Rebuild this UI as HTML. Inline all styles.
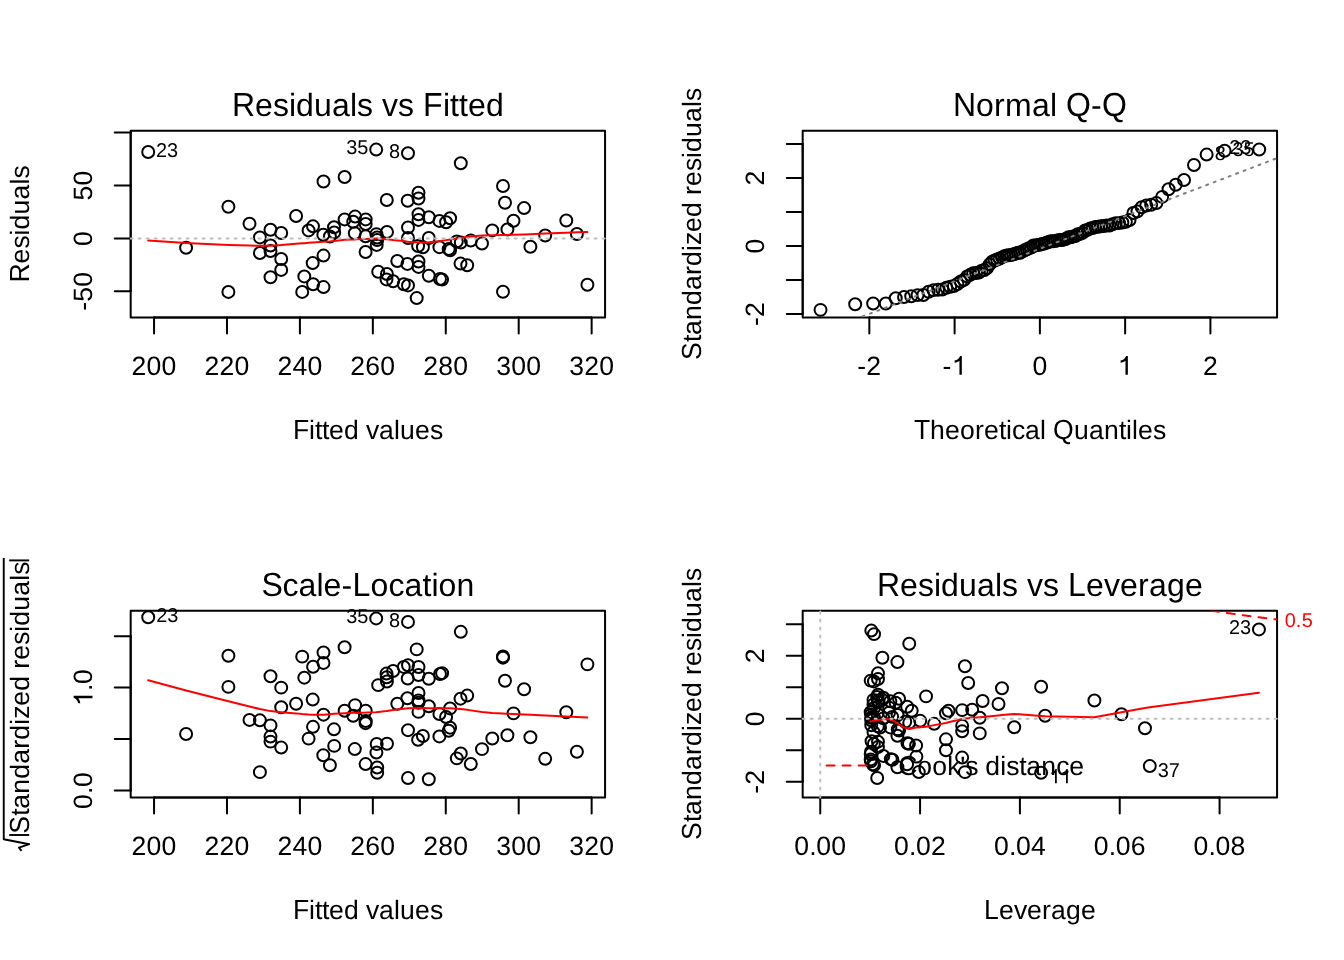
<!DOCTYPE html>
<html><head><meta charset="utf-8"><title>Regression diagnostics</title><style>html,body{margin:0;padding:0;background:#fff;overflow:hidden}svg{display:block;will-change:transform}text{text-rendering:geometricPrecision}</style></head><body>
<svg width="1344" height="960" viewBox="0 0 1344 960"><defs><clipPath id="c1"><rect x="130.68" y="130.68" width="474.39" height="186.77"/></clipPath><clipPath id="c2"><rect x="802.68" y="130.68" width="474.39" height="186.77"/></clipPath><clipPath id="c3"><rect x="130.68" y="610.68" width="474.39" height="186.77"/></clipPath><clipPath id="c4"><rect x="802.68" y="610.68" width="474.39" height="186.77"/></clipPath></defs><rect width="1344" height="960" fill="#fff"/><rect x="130.68" y="130.68" width="474.39" height="186.77" fill="none" stroke="#000" stroke-width="2" stroke-linejoin="round"/>
<rect x="802.68" y="130.68" width="474.39" height="186.77" fill="none" stroke="#000" stroke-width="2" stroke-linejoin="round"/>
<rect x="130.68" y="610.68" width="474.39" height="186.77" fill="none" stroke="#000" stroke-width="2" stroke-linejoin="round"/>
<rect x="802.68" y="610.68" width="474.39" height="186.77" fill="none" stroke="#000" stroke-width="2" stroke-linejoin="round"/>
<line x1="154.05" y1="317.45" x2="154.05" y2="333.39" stroke="#000" stroke-width="2" stroke-linecap="round"/>
<line x1="226.98" y1="317.45" x2="226.98" y2="333.39" stroke="#000" stroke-width="2" stroke-linecap="round"/>
<line x1="299.91" y1="317.45" x2="299.91" y2="333.39" stroke="#000" stroke-width="2" stroke-linecap="round"/>
<line x1="372.85" y1="317.45" x2="372.85" y2="333.39" stroke="#000" stroke-width="2" stroke-linecap="round"/>
<line x1="445.78" y1="317.45" x2="445.78" y2="333.39" stroke="#000" stroke-width="2" stroke-linecap="round"/>
<line x1="518.71" y1="317.45" x2="518.71" y2="333.39" stroke="#000" stroke-width="2" stroke-linecap="round"/>
<line x1="591.64" y1="317.45" x2="591.64" y2="333.39" stroke="#000" stroke-width="2" stroke-linecap="round"/>
<line x1="154.05" y1="317.45" x2="591.64" y2="317.45" stroke="#000" stroke-width="2" stroke-linecap="round"/>
<g transform="translate(154.05,374.82)" fill="#000"><text x="-22.5 -7.5 7.5" y="0" font-family="Liberation Sans, sans-serif" font-size="26.56">200</text></g>
<g transform="translate(226.98,374.82)" fill="#000"><text x="-22.5 -7.5 7.5" y="0" font-family="Liberation Sans, sans-serif" font-size="26.56">220</text></g>
<g transform="translate(299.91,374.82)" fill="#000"><text x="-22.5 -7.5 7.5" y="0" font-family="Liberation Sans, sans-serif" font-size="26.56">240</text></g>
<g transform="translate(372.85,374.82)" fill="#000"><text x="-22.5 -7.5 7.5" y="0" font-family="Liberation Sans, sans-serif" font-size="26.56">260</text></g>
<g transform="translate(445.78,374.82)" fill="#000"><text x="-22.5 -7.5 7.5" y="0" font-family="Liberation Sans, sans-serif" font-size="26.56">280</text></g>
<g transform="translate(518.71,374.82)" fill="#000"><text x="-22.5 -7.5 7.5" y="0" font-family="Liberation Sans, sans-serif" font-size="26.56">300</text></g>
<g transform="translate(591.64,374.82)" fill="#000"><text x="-22.5 -7.5 7.5" y="0" font-family="Liberation Sans, sans-serif" font-size="26.56">320</text></g>
<line x1="130.68" y1="291.34" x2="114.74" y2="291.34" stroke="#000" stroke-width="2" stroke-linecap="round"/>
<line x1="130.68" y1="238.42" x2="114.74" y2="238.42" stroke="#000" stroke-width="2" stroke-linecap="round"/>
<line x1="130.68" y1="185.5" x2="114.74" y2="185.5" stroke="#000" stroke-width="2" stroke-linecap="round"/>
<line x1="130.68" y1="132.58" x2="114.74" y2="132.58" stroke="#000" stroke-width="2" stroke-linecap="round"/>
<line x1="130.68" y1="291.34" x2="130.68" y2="132.58" stroke="#000" stroke-width="2" stroke-linecap="round"/>
<g transform="translate(92.44,291.34) rotate(-90)" fill="#000"><text x="-19.5 -10.5 4.5" y="0" font-family="Liberation Sans, sans-serif" font-size="26.56">-50</text></g>
<g transform="translate(92.44,238.42) rotate(-90)" fill="#000"><text x="-7.5" y="0" font-family="Liberation Sans, sans-serif" font-size="26.56">0</text></g>
<g transform="translate(92.44,185.5) rotate(-90)" fill="#000"><text x="-15 0" y="0" font-family="Liberation Sans, sans-serif" font-size="26.56">50</text></g>
<g transform="translate(367.88,116.34)" fill="#000"><text x="-113 -95 -79 -72 -54 -36 -18 -11 14 30 75 82 91 100 118" y="0" font-family="Liberation Sans, sans-serif" font-size="32">esidualsvsitted</text><text transform="translate(-136,0) scale(1,1.04)" x="0" y="0" font-family="Liberation Sans, sans-serif" font-size="32">R</text><text transform="translate(55,0) scale(1,1.04)" x="0" y="0" font-family="Liberation Sans, sans-serif" font-size="32">F</text></g>
<g transform="translate(367.88,438.56)" fill="#000"><text x="-59 -53 -46 -39 -24 -2 11 26 32 47 62" y="0" font-family="Liberation Sans, sans-serif" font-size="26.56">ittedvalues</text><text transform="translate(-75,0) scale(1,1.04)" x="0" y="0" font-family="Liberation Sans, sans-serif" font-size="26.56">F</text></g>
<g transform="translate(28.7,224.06) rotate(-90)" fill="#000"><text x="-39.5 -24.5 -11.5 -5.5 9.5 24.5 39.5 45.5" y="0" font-family="Liberation Sans, sans-serif" font-size="26.56">esiduals</text><text transform="translate(-58.5,0) scale(1,1.04)" x="0" y="0" font-family="Liberation Sans, sans-serif" font-size="26.56">R</text></g>
<line x1="869.34" y1="317.45" x2="869.34" y2="333.39" stroke="#000" stroke-width="2" stroke-linecap="round"/>
<line x1="954.61" y1="317.45" x2="954.61" y2="333.39" stroke="#000" stroke-width="2" stroke-linecap="round"/>
<line x1="1039.88" y1="317.45" x2="1039.88" y2="333.39" stroke="#000" stroke-width="2" stroke-linecap="round"/>
<line x1="1125.14" y1="317.45" x2="1125.14" y2="333.39" stroke="#000" stroke-width="2" stroke-linecap="round"/>
<line x1="1210.41" y1="317.45" x2="1210.41" y2="333.39" stroke="#000" stroke-width="2" stroke-linecap="round"/>
<line x1="869.34" y1="317.45" x2="1210.41" y2="317.45" stroke="#000" stroke-width="2" stroke-linecap="round"/>
<g transform="translate(869.34,374.82)" fill="#000"><text x="-12 -3" y="0" font-family="Liberation Sans, sans-serif" font-size="26.56">-2</text></g>
<g transform="translate(954.61,374.82)" fill="#000"><text x="-12" y="0" font-family="Liberation Sans, sans-serif" font-size="26.56">-</text><path d="M0.295 0L0.385 0L0.385 0.709L0.318 0.709C0.292 0.628 0.218 0.553 0.112 0.538L0.112 0.458C0.185 0.466 0.248 0.495 0.295 0.53Z" transform="translate(-3,0) scale(26.56,-26.56)"/></g>
<g transform="translate(1039.88,374.82)" fill="#000"><text x="-7.5" y="0" font-family="Liberation Sans, sans-serif" font-size="26.56">0</text></g>
<g transform="translate(1125.14,374.82)" fill="#000"><path d="M0.295 0L0.385 0L0.385 0.709L0.318 0.709C0.292 0.628 0.218 0.553 0.112 0.538L0.112 0.458C0.185 0.466 0.248 0.495 0.295 0.53Z" transform="translate(-7.5,0) scale(26.56,-26.56)"/></g>
<g transform="translate(1210.41,374.82)" fill="#000"><text x="-7.5" y="0" font-family="Liberation Sans, sans-serif" font-size="26.56">2</text></g>
<line x1="802.68" y1="313.9" x2="786.74" y2="313.9" stroke="#000" stroke-width="2" stroke-linecap="round"/>
<line x1="802.68" y1="279.9" x2="786.74" y2="279.9" stroke="#000" stroke-width="2" stroke-linecap="round"/>
<line x1="802.68" y1="245.9" x2="786.74" y2="245.9" stroke="#000" stroke-width="2" stroke-linecap="round"/>
<line x1="802.68" y1="211.9" x2="786.74" y2="211.9" stroke="#000" stroke-width="2" stroke-linecap="round"/>
<line x1="802.68" y1="177.9" x2="786.74" y2="177.9" stroke="#000" stroke-width="2" stroke-linecap="round"/>
<line x1="802.68" y1="143.9" x2="786.74" y2="143.9" stroke="#000" stroke-width="2" stroke-linecap="round"/>
<line x1="802.68" y1="313.9" x2="802.68" y2="143.9" stroke="#000" stroke-width="2" stroke-linecap="round"/>
<g transform="translate(764.44,313.9) rotate(-90)" fill="#000"><text x="-12 -3" y="0" font-family="Liberation Sans, sans-serif" font-size="26.56">-2</text></g>
<g transform="translate(764.44,245.9) rotate(-90)" fill="#000"><text x="-7.5" y="0" font-family="Liberation Sans, sans-serif" font-size="26.56">0</text></g>
<g transform="translate(764.44,177.9) rotate(-90)" fill="#000"><text x="-7.5" y="0" font-family="Liberation Sans, sans-serif" font-size="26.56">2</text></g>
<g transform="translate(1039.88,116.34)" fill="#000"><text x="-64 -46 -35 -8 10 51" y="0" font-family="Liberation Sans, sans-serif" font-size="32">ormal-</text><text transform="translate(-87,0) scale(1,1.04)" x="0" y="0" font-family="Liberation Sans, sans-serif" font-size="32">N</text><text transform="translate(26,0) scale(1,1.04)" x="0" y="0" font-family="Liberation Sans, sans-serif" font-size="32">Q</text><text transform="translate(62,0) scale(1,1.04)" x="0" y="0" font-family="Liberation Sans, sans-serif" font-size="32">Q</text></g>
<g transform="translate(1039.88,438.56)" fill="#000"><text x="-110 -95 -80 -65 -56 -41 -34 -28 -15 0 34 49 64 79 86 92 98 113" y="0" font-family="Liberation Sans, sans-serif" font-size="26.56">heoreticaluantiles</text><text transform="translate(-126,0) scale(1,1.04)" x="0" y="0" font-family="Liberation Sans, sans-serif" font-size="26.56">T</text><text transform="translate(13,0) scale(1,1.04)" x="0" y="0" font-family="Liberation Sans, sans-serif" font-size="26.56">Q</text></g>
<g transform="translate(700.7,224.06) rotate(-90)" fill="#000"><text x="-118 -111 -96 -81 -66 -51 -42 -27 -21 -8 7 29 38 53 66 72 87 102 117 123" y="0" font-family="Liberation Sans, sans-serif" font-size="26.56">tandardizedresiduals</text><text transform="translate(-136,0) scale(1,1.04)" x="0" y="0" font-family="Liberation Sans, sans-serif" font-size="26.56">S</text></g>
<line x1="154.05" y1="797.45" x2="154.05" y2="813.39" stroke="#000" stroke-width="2" stroke-linecap="round"/>
<line x1="226.98" y1="797.45" x2="226.98" y2="813.39" stroke="#000" stroke-width="2" stroke-linecap="round"/>
<line x1="299.91" y1="797.45" x2="299.91" y2="813.39" stroke="#000" stroke-width="2" stroke-linecap="round"/>
<line x1="372.85" y1="797.45" x2="372.85" y2="813.39" stroke="#000" stroke-width="2" stroke-linecap="round"/>
<line x1="445.78" y1="797.45" x2="445.78" y2="813.39" stroke="#000" stroke-width="2" stroke-linecap="round"/>
<line x1="518.71" y1="797.45" x2="518.71" y2="813.39" stroke="#000" stroke-width="2" stroke-linecap="round"/>
<line x1="591.64" y1="797.45" x2="591.64" y2="813.39" stroke="#000" stroke-width="2" stroke-linecap="round"/>
<line x1="154.05" y1="797.45" x2="591.64" y2="797.45" stroke="#000" stroke-width="2" stroke-linecap="round"/>
<g transform="translate(154.05,854.82)" fill="#000"><text x="-22.5 -7.5 7.5" y="0" font-family="Liberation Sans, sans-serif" font-size="26.56">200</text></g>
<g transform="translate(226.98,854.82)" fill="#000"><text x="-22.5 -7.5 7.5" y="0" font-family="Liberation Sans, sans-serif" font-size="26.56">220</text></g>
<g transform="translate(299.91,854.82)" fill="#000"><text x="-22.5 -7.5 7.5" y="0" font-family="Liberation Sans, sans-serif" font-size="26.56">240</text></g>
<g transform="translate(372.85,854.82)" fill="#000"><text x="-22.5 -7.5 7.5" y="0" font-family="Liberation Sans, sans-serif" font-size="26.56">260</text></g>
<g transform="translate(445.78,854.82)" fill="#000"><text x="-22.5 -7.5 7.5" y="0" font-family="Liberation Sans, sans-serif" font-size="26.56">280</text></g>
<g transform="translate(518.71,854.82)" fill="#000"><text x="-22.5 -7.5 7.5" y="0" font-family="Liberation Sans, sans-serif" font-size="26.56">300</text></g>
<g transform="translate(591.64,854.82)" fill="#000"><text x="-22.5 -7.5 7.5" y="0" font-family="Liberation Sans, sans-serif" font-size="26.56">320</text></g>
<line x1="130.68" y1="790.4" x2="114.74" y2="790.4" stroke="#000" stroke-width="2" stroke-linecap="round"/>
<line x1="130.68" y1="739" x2="114.74" y2="739" stroke="#000" stroke-width="2" stroke-linecap="round"/>
<line x1="130.68" y1="687.6" x2="114.74" y2="687.6" stroke="#000" stroke-width="2" stroke-linecap="round"/>
<line x1="130.68" y1="636.2" x2="114.74" y2="636.2" stroke="#000" stroke-width="2" stroke-linecap="round"/>
<line x1="130.68" y1="790.4" x2="130.68" y2="636.2" stroke="#000" stroke-width="2" stroke-linecap="round"/>
<g transform="translate(92.44,790.4) rotate(-90)" fill="#000"><text x="-18.5 -3.5 3.5" y="0" font-family="Liberation Sans, sans-serif" font-size="26.56">0.0</text></g>
<g transform="translate(92.44,687.6) rotate(-90)" fill="#000"><text x="-3.5 3.5" y="0" font-family="Liberation Sans, sans-serif" font-size="26.56">.0</text><path d="M0.295 0L0.385 0L0.385 0.709L0.318 0.709C0.292 0.628 0.218 0.553 0.112 0.538L0.112 0.458C0.185 0.466 0.248 0.495 0.295 0.53Z" transform="translate(-18.5,0) scale(26.56,-26.56)"/></g>
<g transform="translate(367.88,596.34)" fill="#000"><text x="-85.5 -69.5 -51.5 -44.5 -26.5 2.5 20.5 36.5 54.5 63.5 70.5 88.5" y="0" font-family="Liberation Sans, sans-serif" font-size="32">cale-ocation</text><text transform="translate(-106.5,0) scale(1,1.04)" x="0" y="0" font-family="Liberation Sans, sans-serif" font-size="32">S</text><text transform="translate(-15.5,0) scale(1,1.04)" x="0" y="0" font-family="Liberation Sans, sans-serif" font-size="32">L</text></g>
<g transform="translate(367.88,918.56)" fill="#000"><text x="-59 -53 -46 -39 -24 -2 11 26 32 47 62" y="0" font-family="Liberation Sans, sans-serif" font-size="26.56">ittedvalues</text><text transform="translate(-75,0) scale(1,1.04)" x="0" y="0" font-family="Liberation Sans, sans-serif" font-size="26.56">F</text></g>
<line x1="820.25" y1="797.45" x2="820.25" y2="813.39" stroke="#000" stroke-width="2" stroke-linecap="round"/>
<line x1="920.08" y1="797.45" x2="920.08" y2="813.39" stroke="#000" stroke-width="2" stroke-linecap="round"/>
<line x1="1019.91" y1="797.45" x2="1019.91" y2="813.39" stroke="#000" stroke-width="2" stroke-linecap="round"/>
<line x1="1119.74" y1="797.45" x2="1119.74" y2="813.39" stroke="#000" stroke-width="2" stroke-linecap="round"/>
<line x1="1219.57" y1="797.45" x2="1219.57" y2="813.39" stroke="#000" stroke-width="2" stroke-linecap="round"/>
<line x1="820.25" y1="797.45" x2="1219.57" y2="797.45" stroke="#000" stroke-width="2" stroke-linecap="round"/>
<g transform="translate(820.25,854.82)" fill="#000"><text x="-26 -11 -4 11" y="0" font-family="Liberation Sans, sans-serif" font-size="26.56">0.00</text></g>
<g transform="translate(920.08,854.82)" fill="#000"><text x="-26 -11 -4 11" y="0" font-family="Liberation Sans, sans-serif" font-size="26.56">0.02</text></g>
<g transform="translate(1019.91,854.82)" fill="#000"><text x="-26 -11 -4 11" y="0" font-family="Liberation Sans, sans-serif" font-size="26.56">0.04</text></g>
<g transform="translate(1119.74,854.82)" fill="#000"><text x="-26 -11 -4 11" y="0" font-family="Liberation Sans, sans-serif" font-size="26.56">0.06</text></g>
<g transform="translate(1219.57,854.82)" fill="#000"><text x="-26 -11 -4 11" y="0" font-family="Liberation Sans, sans-serif" font-size="26.56">0.08</text></g>
<line x1="802.68" y1="781.75" x2="786.74" y2="781.75" stroke="#000" stroke-width="2" stroke-linecap="round"/>
<line x1="802.68" y1="750.25" x2="786.74" y2="750.25" stroke="#000" stroke-width="2" stroke-linecap="round"/>
<line x1="802.68" y1="718.75" x2="786.74" y2="718.75" stroke="#000" stroke-width="2" stroke-linecap="round"/>
<line x1="802.68" y1="687.25" x2="786.74" y2="687.25" stroke="#000" stroke-width="2" stroke-linecap="round"/>
<line x1="802.68" y1="655.75" x2="786.74" y2="655.75" stroke="#000" stroke-width="2" stroke-linecap="round"/>
<line x1="802.68" y1="624.25" x2="786.74" y2="624.25" stroke="#000" stroke-width="2" stroke-linecap="round"/>
<line x1="802.68" y1="781.75" x2="802.68" y2="624.25" stroke="#000" stroke-width="2" stroke-linecap="round"/>
<g transform="translate(764.44,781.75) rotate(-90)" fill="#000"><text x="-12 -3" y="0" font-family="Liberation Sans, sans-serif" font-size="26.56">-2</text></g>
<g transform="translate(764.44,718.75) rotate(-90)" fill="#000"><text x="-7.5" y="0" font-family="Liberation Sans, sans-serif" font-size="26.56">0</text></g>
<g transform="translate(764.44,655.75) rotate(-90)" fill="#000"><text x="-7.5" y="0" font-family="Liberation Sans, sans-serif" font-size="26.56">2</text></g>
<g transform="translate(1039.88,596.34)" fill="#000"><text x="-140 -122 -106 -99 -81 -63 -45 -38 -13 3 46 64 80 98 109 127 145" y="0" font-family="Liberation Sans, sans-serif" font-size="32">esidualsvseverage</text><text transform="translate(-163,0) scale(1,1.04)" x="0" y="0" font-family="Liberation Sans, sans-serif" font-size="32">R</text><text transform="translate(28,0) scale(1,1.04)" x="0" y="0" font-family="Liberation Sans, sans-serif" font-size="32">L</text></g>
<g transform="translate(1039.88,918.56)" fill="#000"><text x="-41 -26 -13 2 11 26 41" y="0" font-family="Liberation Sans, sans-serif" font-size="26.56">everage</text><text transform="translate(-56,0) scale(1,1.04)" x="0" y="0" font-family="Liberation Sans, sans-serif" font-size="26.56">L</text></g>
<g transform="translate(700.7,704.07) rotate(-90)" fill="#000"><text x="-118 -111 -96 -81 -66 -51 -42 -27 -21 -8 7 29 38 53 66 72 87 102 117 123" y="0" font-family="Liberation Sans, sans-serif" font-size="26.56">tandardizedresiduals</text><text transform="translate(-136,0) scale(1,1.04)" x="0" y="0" font-family="Liberation Sans, sans-serif" font-size="26.56">S</text></g>
<g fill="none" stroke="#000" stroke-width="2">
<circle cx="148.2" cy="152" r="5.98"/>
<circle cx="228.4" cy="206.8" r="5.98"/>
<circle cx="249.5" cy="223.7" r="5.98"/>
<circle cx="186.1" cy="247.7" r="5.98"/>
<circle cx="270.5" cy="229.8" r="5.98"/>
<circle cx="281.2" cy="232.96" r="5.98"/>
<circle cx="259.9" cy="237.43" r="5.98"/>
<circle cx="270.5" cy="245.5" r="5.98"/>
<circle cx="270.5" cy="251" r="5.98"/>
<circle cx="259.9" cy="253" r="5.98"/>
<circle cx="281.2" cy="259" r="5.98"/>
<circle cx="281.2" cy="269.9" r="5.98"/>
<circle cx="270.5" cy="277.2" r="5.98"/>
<circle cx="228.4" cy="291.93" r="5.98"/>
<circle cx="376.2" cy="149.6" r="5.98"/>
<circle cx="408" cy="153.2" r="5.98"/>
<circle cx="323.5" cy="181.5" r="5.98"/>
<circle cx="344.6" cy="177" r="5.98"/>
<circle cx="386.8" cy="200" r="5.98"/>
<circle cx="407.7" cy="200.8" r="5.98"/>
<circle cx="418.5" cy="192.7" r="5.98"/>
<circle cx="418.5" cy="198.5" r="5.98"/>
<circle cx="296.1" cy="216" r="5.98"/>
<circle cx="418.5" cy="214.2" r="5.98"/>
<circle cx="418.5" cy="219.92" r="5.98"/>
<circle cx="428.8" cy="217.2" r="5.98"/>
<circle cx="344.6" cy="219.4" r="5.98"/>
<circle cx="355.1" cy="216.6" r="5.98"/>
<circle cx="365.7" cy="219.4" r="5.98"/>
<circle cx="308.6" cy="230.4" r="5.98"/>
<circle cx="313" cy="226.33" r="5.98"/>
<circle cx="323.3" cy="234.73" r="5.98"/>
<circle cx="329.9" cy="236.53" r="5.98"/>
<circle cx="334" cy="227.24" r="5.98"/>
<circle cx="334.2" cy="232.48" r="5.98"/>
<circle cx="353.2" cy="221.7" r="5.98"/>
<circle cx="365.7" cy="224" r="5.98"/>
<circle cx="354.8" cy="233.3" r="5.98"/>
<circle cx="365.6" cy="236.34" r="5.98"/>
<circle cx="376.4" cy="234.13" r="5.98"/>
<circle cx="377.2" cy="237.49" r="5.98"/>
<circle cx="377.2" cy="239.99" r="5.98"/>
<circle cx="376.7" cy="244.9" r="5.98"/>
<circle cx="387" cy="231.9" r="5.98"/>
<circle cx="365.6" cy="252" r="5.98"/>
<circle cx="408" cy="227.52" r="5.98"/>
<circle cx="408" cy="237.96" r="5.98"/>
<circle cx="428.8" cy="238.05" r="5.98"/>
<circle cx="418.1" cy="246.1" r="5.98"/>
<circle cx="422.9" cy="247.3" r="5.98"/>
<circle cx="323.5" cy="255.6" r="5.98"/>
<circle cx="312.7" cy="263.1" r="5.98"/>
<circle cx="304.3" cy="276.4" r="5.98"/>
<circle cx="313.1" cy="284.2" r="5.98"/>
<circle cx="323.5" cy="287.1" r="5.98"/>
<circle cx="302.2" cy="291.9" r="5.98"/>
<circle cx="378.2" cy="271.7" r="5.98"/>
<circle cx="386.9" cy="274" r="5.98"/>
<circle cx="386.5" cy="279.4" r="5.98"/>
<circle cx="393.1" cy="281.2" r="5.98"/>
<circle cx="397.3" cy="261" r="5.98"/>
<circle cx="407.4" cy="263.9" r="5.98"/>
<circle cx="418.5" cy="261.5" r="5.98"/>
<circle cx="418.5" cy="266.9" r="5.98"/>
<circle cx="403.8" cy="284.2" r="5.98"/>
<circle cx="408" cy="285.4" r="5.98"/>
<circle cx="428.8" cy="275.8" r="5.98"/>
<circle cx="416.7" cy="298.1" r="5.98"/>
<circle cx="460.8" cy="163.2" r="5.98"/>
<circle cx="503" cy="186" r="5.98"/>
<circle cx="505" cy="202.7" r="5.98"/>
<circle cx="524.1" cy="208.1" r="5.98"/>
<circle cx="513.5" cy="220.8" r="5.98"/>
<circle cx="566.3" cy="220.51" r="5.98"/>
<circle cx="439.4" cy="220.9" r="5.98"/>
<circle cx="450.1" cy="218.3" r="5.98"/>
<circle cx="446.1" cy="222.3" r="5.98"/>
<circle cx="492.3" cy="230.4" r="5.98"/>
<circle cx="507.4" cy="229.4" r="5.98"/>
<circle cx="545.2" cy="235.48" r="5.98"/>
<circle cx="576.9" cy="234.06" r="5.98"/>
<circle cx="456.8" cy="241.49" r="5.98"/>
<circle cx="460.8" cy="242.5" r="5.98"/>
<circle cx="470.8" cy="240.5" r="5.98"/>
<circle cx="482" cy="243.5" r="5.98"/>
<circle cx="439.4" cy="247.15" r="5.98"/>
<circle cx="448.7" cy="249.1" r="5.98"/>
<circle cx="450.1" cy="250.2" r="5.98"/>
<circle cx="530.4" cy="246.8" r="5.98"/>
<circle cx="460.5" cy="263.6" r="5.98"/>
<circle cx="467.2" cy="265.3" r="5.98"/>
<circle cx="440" cy="279" r="5.98"/>
<circle cx="442.1" cy="279.6" r="5.98"/>
<circle cx="503" cy="291.7" r="5.98"/>
<circle cx="587.4" cy="284.76" r="5.98"/>
</g>
<polyline points="148.2,240.45 186.1,242.96 228.4,244.91 228.4,244.91 249.5,245.61 259.9,245.76 259.9,245.76 270.5,245.63 270.5,245.63 270.5,245.63 270.5,245.63 281.2,245.03 281.2,245.03 281.2,245.03 281.2,245.03 296.1,243.82 302.2,243.3 304.3,243.13 308.6,242.81 312.7,242.51 313,242.49 313.1,242.48 323.3,241.75 323.5,241.73 323.5,241.73 323.5,241.73 329.9,241.47 334,241.12 334.2,241.1 344.6,239.85 344.6,239.85 353.2,239.53 354.8,239.36 355.1,239.32 365.6,238.9 365.6,238.9 365.7,238.9 365.7,238.9 376.2,238.5 376.4,238.51 376.4,238.51 376.7,238.53 376.7,238.53 377.2,238.57 377.2,238.57 378.2,238.64 386.5,239.25 386.8,239.28 386.9,239.29 387,239.3 393.1,240.06 397.3,240.45 403.8,241.09 407.4,241.64 407.7,241.69 408,241.73 408,241.73 408,241.73 408,241.73 416.7,242.24 418.1,242.37 418.5,242.41 418.5,242.41 418.5,242.41 418.5,242.41 418.5,242.41 418.5,242.41 422.9,242.49 428.8,242.23 428.8,242.23 428.8,242.23 428.8,242.23 439.4,241.33 439.4,241.33 440,241.22 442.1,240.85 446.1,240.11 448.7,239.66 450.1,239.41 450.1,239.41 456.8,238.38 460.5,237.86 460.8,237.81 460.8,237.81 467.2,236.9 470.8,236.42 482,235.42 492.3,235.14 503,234.98 503,234.98 505,234.94 507.4,234.89 513.5,234.74 524.1,234.41 530.4,234.18 545.2,233.56 566.3,232.68 576.9,232.28 587.4,231.94" fill="none" stroke="#FF0000" stroke-width="2" stroke-linecap="round" stroke-linejoin="round"/>
<g transform="translate(156.03,157.03)" fill="#000"><text x="0 11" y="0" font-family="Liberation Sans, sans-serif" font-size="19.92">23</text></g>
<g transform="translate(368.16,154.29)" fill="#000"><text x="-22 -11" y="0" font-family="Liberation Sans, sans-serif" font-size="19.92">35</text></g>
<g transform="translate(399.98,158.15)" fill="#000"><text x="-11" y="0" font-family="Liberation Sans, sans-serif" font-size="19.92">8</text></g>
<polyline points="130.68,238.42 605.07,238.42" fill="none" stroke="#BEBEBE" stroke-width="2" stroke-linecap="round" stroke-linejoin="round" stroke-dasharray="2 6"/>
<g fill="none" stroke="#000" stroke-width="2">
<circle cx="820.53" cy="309.87" r="5.98"/>
<circle cx="855.17" cy="304.24" r="5.98"/>
<circle cx="873.12" cy="303.53" r="5.98"/>
<circle cx="885.76" cy="303.47" r="5.98"/>
<circle cx="895.72" cy="298.19" r="5.98"/>
<circle cx="904.02" cy="297.01" r="5.98"/>
<circle cx="911.21" cy="296.24" r="5.98"/>
<circle cx="917.58" cy="295.12" r="5.98"/>
<circle cx="923.34" cy="294.95" r="5.98"/>
<circle cx="928.6" cy="291.73" r="5.98"/>
<circle cx="933.48" cy="290.11" r="5.98"/>
<circle cx="938.03" cy="289.8" r="5.98"/>
<circle cx="942.31" cy="289.46" r="5.98"/>
<circle cx="946.35" cy="287.83" r="5.98"/>
<circle cx="950.2" cy="286.78" r="5.98"/>
<circle cx="953.87" cy="285.99" r="5.98"/>
<circle cx="957.38" cy="284.02" r="5.98"/>
<circle cx="960.77" cy="281.55" r="5.98"/>
<circle cx="964.03" cy="279.88" r="5.98"/>
<circle cx="967.18" cy="276.43" r="5.98"/>
<circle cx="970.24" cy="274.83" r="5.98"/>
<circle cx="973.21" cy="273.2" r="5.98"/>
<circle cx="976.11" cy="272.98" r="5.98"/>
<circle cx="978.93" cy="272.44" r="5.98"/>
<circle cx="981.68" cy="270.64" r="5.98"/>
<circle cx="984.38" cy="270.09" r="5.98"/>
<circle cx="987.02" cy="268.12" r="5.98"/>
<circle cx="989.61" cy="264.35" r="5.98"/>
<circle cx="992.16" cy="261.69" r="5.98"/>
<circle cx="994.66" cy="260.45" r="5.98"/>
<circle cx="997.13" cy="259.5" r="5.98"/>
<circle cx="999.56" cy="258.56" r="5.98"/>
<circle cx="1001.96" cy="257.37" r="5.98"/>
<circle cx="1004.33" cy="256.13" r="5.98"/>
<circle cx="1006.67" cy="255.42" r="5.98"/>
<circle cx="1008.99" cy="255.27" r="5.98"/>
<circle cx="1011.28" cy="255.01" r="5.98"/>
<circle cx="1013.56" cy="254.13" r="5.98"/>
<circle cx="1015.81" cy="253.56" r="5.98"/>
<circle cx="1018.05" cy="252.84" r="5.98"/>
<circle cx="1020.27" cy="252.84" r="5.98"/>
<circle cx="1022.48" cy="251.38" r="5.98"/>
<circle cx="1024.68" cy="250.29" r="5.98"/>
<circle cx="1026.87" cy="249.2" r="5.98"/>
<circle cx="1029.05" cy="248.14" r="5.98"/>
<circle cx="1031.22" cy="247.58" r="5.98"/>
<circle cx="1033.39" cy="245.5" r="5.98"/>
<circle cx="1035.56" cy="245.41" r="5.98"/>
<circle cx="1037.72" cy="244.9" r="5.98"/>
<circle cx="1039.88" cy="244.83" r="5.98"/>
<circle cx="1042.03" cy="243.87" r="5.98"/>
<circle cx="1044.19" cy="243.67" r="5.98"/>
<circle cx="1046.36" cy="242.69" r="5.98"/>
<circle cx="1048.53" cy="241.94" r="5.98"/>
<circle cx="1050.7" cy="241.3" r="5.98"/>
<circle cx="1052.88" cy="241.3" r="5.98"/>
<circle cx="1055.07" cy="241.11" r="5.98"/>
<circle cx="1057.27" cy="240.41" r="5.98"/>
<circle cx="1059.48" cy="240.01" r="5.98"/>
<circle cx="1061.7" cy="240.01" r="5.98"/>
<circle cx="1063.94" cy="239.52" r="5.98"/>
<circle cx="1066.19" cy="238.92" r="5.98"/>
<circle cx="1068.47" cy="237.27" r="5.98"/>
<circle cx="1070.76" cy="237.24" r="5.98"/>
<circle cx="1073.08" cy="236.58" r="5.98"/>
<circle cx="1075.42" cy="236.14" r="5.98"/>
<circle cx="1077.79" cy="234.22" r="5.98"/>
<circle cx="1080.19" cy="233.9" r="5.98"/>
<circle cx="1082.62" cy="232.9" r="5.98"/>
<circle cx="1085.09" cy="230.45" r="5.98"/>
<circle cx="1087.59" cy="229.92" r="5.98"/>
<circle cx="1090.14" cy="228.59" r="5.98"/>
<circle cx="1092.73" cy="227.98" r="5.98"/>
<circle cx="1095.37" cy="227.09" r="5.98"/>
<circle cx="1098.07" cy="226.81" r="5.98"/>
<circle cx="1100.82" cy="226.26" r="5.98"/>
<circle cx="1103.64" cy="226.07" r="5.98"/>
<circle cx="1106.54" cy="225.52" r="5.98"/>
<circle cx="1109.51" cy="225.5" r="5.98"/>
<circle cx="1112.57" cy="224.28" r="5.98"/>
<circle cx="1115.72" cy="223.14" r="5.98"/>
<circle cx="1118.98" cy="223.14" r="5.98"/>
<circle cx="1122.37" cy="222.51" r="5.98"/>
<circle cx="1125.88" cy="221.75" r="5.98"/>
<circle cx="1129.55" cy="219.94" r="5.98"/>
<circle cx="1133.4" cy="212.98" r="5.98"/>
<circle cx="1137.44" cy="211.43" r="5.98"/>
<circle cx="1141.72" cy="207.25" r="5.98"/>
<circle cx="1146.27" cy="205.59" r="5.98"/>
<circle cx="1151.15" cy="204.74" r="5.98"/>
<circle cx="1156.41" cy="203.1" r="5.98"/>
<circle cx="1162.17" cy="196.89" r="5.98"/>
<circle cx="1168.54" cy="189.2" r="5.98"/>
<circle cx="1175.73" cy="184.76" r="5.98"/>
<circle cx="1184.03" cy="180.03" r="5.98"/>
<circle cx="1193.99" cy="165" r="5.98"/>
<circle cx="1206.63" cy="154.58" r="5.98"/>
<circle cx="1224.58" cy="150.75" r="5.98"/>
<circle cx="1259.22" cy="149.46" r="5.98"/>
</g>
<polyline points="802.68,339.36 1277.07,158.13" fill="none" stroke="#7F7F7F" stroke-width="2" stroke-linecap="round" stroke-linejoin="round" stroke-dasharray="2 6" clip-path="url(#c2)"/>
<g transform="translate(1251.22,154.46)" fill="#000"><text x="-22 -11" y="0" font-family="Liberation Sans, sans-serif" font-size="19.92">23</text></g>
<g transform="translate(1232.58,155.75)" fill="#000"><text x="0 11" y="0" font-family="Liberation Sans, sans-serif" font-size="19.92">35</text></g>
<g transform="translate(1214.63,159.58)" fill="#000"><text x="0" y="0" font-family="Liberation Sans, sans-serif" font-size="19.92">8</text></g>
<g fill="none" stroke="#000" stroke-width="2">
<circle cx="148.2" cy="617.26" r="5.98"/>
<circle cx="228.4" cy="686.89" r="5.98"/>
<circle cx="249.5" cy="719.93" r="5.98"/>
<circle cx="186.1" cy="734.01" r="5.98"/>
<circle cx="270.5" cy="736.58" r="5.98"/>
<circle cx="281.2" cy="747.6" r="5.98"/>
<circle cx="259.9" cy="772.14" r="5.98"/>
<circle cx="270.5" cy="741.62" r="5.98"/>
<circle cx="270.5" cy="725.38" r="5.98"/>
<circle cx="259.9" cy="720.33" r="5.98"/>
<circle cx="281.2" cy="707.3" r="5.98"/>
<circle cx="281.2" cy="687.63" r="5.98"/>
<circle cx="270.5" cy="676.24" r="5.98"/>
<circle cx="228.4" cy="655.74" r="5.98"/>
<circle cx="376.2" cy="618.42" r="5.98"/>
<circle cx="408" cy="621.92" r="5.98"/>
<circle cx="323.5" cy="652.55" r="5.98"/>
<circle cx="344.6" cy="647.31" r="5.98"/>
<circle cx="386.8" cy="677.3" r="5.98"/>
<circle cx="407.7" cy="678.46" r="5.98"/>
<circle cx="418.5" cy="666.97" r="5.98"/>
<circle cx="418.5" cy="675.07" r="5.98"/>
<circle cx="296.1" cy="703.76" r="5.98"/>
<circle cx="418.5" cy="700.56" r="5.98"/>
<circle cx="418.5" cy="711.89" r="5.98"/>
<circle cx="428.8" cy="706.29" r="5.98"/>
<circle cx="344.6" cy="710.77" r="5.98"/>
<circle cx="355.1" cy="705.14" r="5.98"/>
<circle cx="365.7" cy="710.81" r="5.98"/>
<circle cx="308.6" cy="738.62" r="5.98"/>
<circle cx="313" cy="726.84" r="5.98"/>
<circle cx="323.3" cy="755.3" r="5.98"/>
<circle cx="329.9" cy="765.29" r="5.98"/>
<circle cx="334" cy="729.33" r="5.98"/>
<circle cx="334.2" cy="745.89" r="5.98"/>
<circle cx="353.2" cy="715.76" r="5.98"/>
<circle cx="365.7" cy="721.1" r="5.98"/>
<circle cx="354.8" cy="749.1" r="5.98"/>
<circle cx="365.6" cy="764.08" r="5.98"/>
<circle cx="376.4" cy="752.6" r="5.98"/>
<circle cx="377.2" cy="772.8" r="5.98"/>
<circle cx="377.2" cy="767.54" r="5.98"/>
<circle cx="376.7" cy="743.95" r="5.98"/>
<circle cx="387" cy="743.81" r="5.98"/>
<circle cx="365.6" cy="723.15" r="5.98"/>
<circle cx="408" cy="730.15" r="5.98"/>
<circle cx="408" cy="778.02" r="5.98"/>
<circle cx="428.8" cy="779.29" r="5.98"/>
<circle cx="418.1" cy="739.81" r="5.98"/>
<circle cx="422.9" cy="736" r="5.98"/>
<circle cx="323.5" cy="714.66" r="5.98"/>
<circle cx="312.7" cy="699.58" r="5.98"/>
<circle cx="304.3" cy="677.68" r="5.98"/>
<circle cx="313.1" cy="666.71" r="5.98"/>
<circle cx="323.5" cy="662.91" r="5.98"/>
<circle cx="302.2" cy="656.63" r="5.98"/>
<circle cx="378.2" cy="685.13" r="5.98"/>
<circle cx="386.9" cy="681.56" r="5.98"/>
<circle cx="386.5" cy="673.59" r="5.98"/>
<circle cx="393.1" cy="671.05" r="5.98"/>
<circle cx="397.3" cy="703.69" r="5.98"/>
<circle cx="407.4" cy="698.28" r="5.98"/>
<circle cx="418.5" cy="702.7" r="5.98"/>
<circle cx="418.5" cy="692.98" r="5.98"/>
<circle cx="403.8" cy="666.92" r="5.98"/>
<circle cx="408" cy="665.31" r="5.98"/>
<circle cx="428.8" cy="678.77" r="5.98"/>
<circle cx="416.7" cy="649.39" r="5.98"/>
<circle cx="460.8" cy="631.83" r="5.98"/>
<circle cx="503" cy="657.65" r="5.98"/>
<circle cx="505" cy="680.8" r="5.98"/>
<circle cx="524.1" cy="689.24" r="5.98"/>
<circle cx="513.5" cy="713.36" r="5.98"/>
<circle cx="566.3" cy="712.28" r="5.98"/>
<circle cx="439.4" cy="713.95" r="5.98"/>
<circle cx="450.1" cy="708.43" r="5.98"/>
<circle cx="446.1" cy="717.04" r="5.98"/>
<circle cx="492.3" cy="738.52" r="5.98"/>
<circle cx="507.4" cy="735.31" r="5.98"/>
<circle cx="545.2" cy="758.83" r="5.98"/>
<circle cx="576.9" cy="751.8" r="5.98"/>
<circle cx="456.8" cy="758.37" r="5.98"/>
<circle cx="460.8" cy="753.47" r="5.98"/>
<circle cx="470.8" cy="764.02" r="5.98"/>
<circle cx="482" cy="749.14" r="5.98"/>
<circle cx="439.4" cy="736.43" r="5.98"/>
<circle cx="448.7" cy="730.69" r="5.98"/>
<circle cx="450.1" cy="727.68" r="5.98"/>
<circle cx="530.4" cy="737.19" r="5.98"/>
<circle cx="460.5" cy="698.66" r="5.98"/>
<circle cx="467.2" cy="695.58" r="5.98"/>
<circle cx="440" cy="674.04" r="5.98"/>
<circle cx="442.1" cy="673.17" r="5.98"/>
<circle cx="503" cy="656.56" r="5.98"/>
<circle cx="587.4" cy="664.37" r="5.98"/>
</g>
<polyline points="148.2,680.27 186.1,690.43 228.4,701.2 228.4,701.2 249.5,706.57 259.9,709.06 259.9,709.06 270.5,711.11 270.5,711.11 270.5,711.11 270.5,711.11 281.2,712.18 281.2,712.18 281.2,712.18 281.2,712.18 296.1,713.38 302.2,714.06 304.3,714.16 308.6,714.54 312.7,714.8 313,714.82 313.1,714.82 323.3,714.7 323.5,714.68 323.5,714.68 323.5,714.68 329.9,714.13 334,713.74 334.2,713.72 344.6,713.28 344.6,713.28 353.2,712.77 354.8,712.87 355.1,712.89 365.6,712.48 365.6,712.48 365.7,712.46 365.7,712.46 376.2,712.24 376.4,712.21 376.4,712.21 376.7,712.16 376.7,712.16 377.2,712.08 377.2,712.08 378.2,711.91 386.5,711.03 386.8,710.98 386.9,710.96 387,710.94 393.1,709.93 397.3,709.44 403.8,708.86 407.4,708.25 407.7,708.19 408,708.14 408,708.14 408,708.14 408,708.14 416.7,708.12 418.1,707.97 418.5,707.92 418.5,707.92 418.5,707.92 418.5,707.92 418.5,707.92 418.5,707.92 422.9,708.04 428.8,708.25 428.8,708.25 428.8,708.25 428.8,708.25 439.4,708.36 439.4,708.36 440,708.35 442.1,708.31 446.1,708.25 448.7,708.27 450.1,708.28 450.1,708.28 456.8,708.68 460.5,709.05 460.8,709.09 460.8,709.09 467.2,709.86 470.8,710.38 482,712.02 492.3,712.96 503,713.59 503,713.59 505,713.68 507.4,713.8 513.5,714.06 524.1,714.5 530.4,714.76 545.2,715.41 566.3,716.42 576.9,716.95 587.4,717.46" fill="none" stroke="#FF0000" stroke-width="2" stroke-linecap="round" stroke-linejoin="round"/>
<g transform="translate(156.2,622.26)" fill="#000"><text x="0 11" y="0" font-family="Liberation Sans, sans-serif" font-size="19.92">23</text></g>
<g transform="translate(368.2,623.42)" fill="#000"><text x="-22 -11" y="0" font-family="Liberation Sans, sans-serif" font-size="19.92">35</text></g>
<g transform="translate(400,626.92)" fill="#000"><text x="-11" y="0" font-family="Liberation Sans, sans-serif" font-size="19.92">8</text></g>
<g fill="none" stroke="#000" stroke-width="2">
<circle cx="1258.95" cy="629.4" r="5.98"/>
<circle cx="1041.12" cy="686.81" r="5.98"/>
<circle cx="998.51" cy="703.95" r="5.98"/>
<circle cx="1144.99" cy="728.23" r="5.98"/>
<circle cx="962.17" cy="710.11" r="5.98"/>
<circle cx="945.98" cy="713.29" r="5.98"/>
<circle cx="979.75" cy="717.76" r="5.98"/>
<circle cx="962.17" cy="725.84" r="5.98"/>
<circle cx="962.17" cy="731.35" r="5.98"/>
<circle cx="979.75" cy="733.38" r="5.98"/>
<circle cx="945.98" cy="739.33" r="5.98"/>
<circle cx="945.98" cy="750.23" r="5.98"/>
<circle cx="962.17" cy="757.6" r="5.98"/>
<circle cx="1041.12" cy="772.8" r="5.98"/>
<circle cx="871.31" cy="630.59" r="5.98"/>
<circle cx="874.03" cy="634.14" r="5.98"/>
<circle cx="897.41" cy="662.1" r="5.98"/>
<circle cx="882.38" cy="657.72" r="5.98"/>
<circle cx="870.68" cy="680.62" r="5.98"/>
<circle cx="873.94" cy="681.4" r="5.98"/>
<circle cx="877.98" cy="673.34" r="5.98"/>
<circle cx="877.98" cy="679.1" r="5.98"/>
<circle cx="926.07" cy="696.37" r="5.98"/>
<circle cx="877.98" cy="694.69" r="5.98"/>
<circle cx="877.98" cy="700.38" r="5.98"/>
<circle cx="883.33" cy="697.66" r="5.98"/>
<circle cx="882.38" cy="699.85" r="5.98"/>
<circle cx="877.18" cy="697.08" r="5.98"/>
<circle cx="873.47" cy="699.87" r="5.98"/>
<circle cx="911.72" cy="710.76" r="5.98"/>
<circle cx="907.18" cy="706.71" r="5.98"/>
<circle cx="897.59" cy="715.08" r="5.98"/>
<circle cx="892.21" cy="716.87" r="5.98"/>
<circle cx="889.17" cy="707.63" r="5.98"/>
<circle cx="889.03" cy="712.84" r="5.98"/>
<circle cx="878.01" cy="702.14" r="5.98"/>
<circle cx="873.47" cy="704.43" r="5.98"/>
<circle cx="877.31" cy="713.67" r="5.98"/>
<circle cx="873.5" cy="716.69" r="5.98"/>
<circle cx="871.29" cy="714.49" r="5.98"/>
<circle cx="871.19" cy="717.83" r="5.98"/>
<circle cx="871.19" cy="720.31" r="5.98"/>
<circle cx="871.25" cy="725.18" r="5.98"/>
<circle cx="870.68" cy="712.28" r="5.98"/>
<circle cx="873.5" cy="732.23" r="5.98"/>
<circle cx="874.03" cy="707.93" r="5.98"/>
<circle cx="874.03" cy="718.29" r="5.98"/>
<circle cx="883.33" cy="718.38" r="5.98"/>
<circle cx="877.81" cy="726.38" r="5.98"/>
<circle cx="880.09" cy="727.57" r="5.98"/>
<circle cx="897.41" cy="735.85" r="5.98"/>
<circle cx="907.48" cy="743.34" r="5.98"/>
<circle cx="916.41" cy="756.62" r="5.98"/>
<circle cx="907.08" cy="764.35" r="5.98"/>
<circle cx="897.41" cy="767.2" r="5.98"/>
<circle cx="918.8" cy="772.09" r="5.98"/>
<circle cx="871.07" cy="751.78" r="5.98"/>
<circle cx="870.68" cy="754.06" r="5.98"/>
<circle cx="870.67" cy="759.42" r="5.98"/>
<circle cx="871.03" cy="761.21" r="5.98"/>
<circle cx="871.57" cy="741.16" r="5.98"/>
<circle cx="873.85" cy="744.05" r="5.98"/>
<circle cx="877.98" cy="741.67" r="5.98"/>
<circle cx="877.98" cy="747.04" r="5.98"/>
<circle cx="872.88" cy="764.2" r="5.98"/>
<circle cx="874.03" cy="765.39" r="5.98"/>
<circle cx="883.33" cy="755.9" r="5.98"/>
<circle cx="877.2" cy="778.02" r="5.98"/>
<circle cx="909.25" cy="643.8" r="5.98"/>
<circle cx="964.95" cy="666.22" r="5.98"/>
<circle cx="968.2" cy="682.94" r="5.98"/>
<circle cx="1001.98" cy="688.25" r="5.98"/>
<circle cx="982.62" cy="701.06" r="5.98"/>
<circle cx="1094.41" cy="700.56" r="5.98"/>
<circle cx="890.36" cy="701.33" r="5.98"/>
<circle cx="899.02" cy="698.72" r="5.98"/>
<circle cx="895.6" cy="702.71" r="5.98"/>
<circle cx="948.51" cy="710.73" r="5.98"/>
<circle cx="972.17" cy="709.7" r="5.98"/>
<circle cx="1045.14" cy="715.78" r="5.98"/>
<circle cx="1121.47" cy="714.31" r="5.98"/>
<circle cx="905.24" cy="721.81" r="5.98"/>
<circle cx="909.25" cy="722.82" r="5.98"/>
<circle cx="920.24" cy="720.82" r="5.98"/>
<circle cx="934.17" cy="723.82" r="5.98"/>
<circle cx="890.36" cy="727.43" r="5.98"/>
<circle cx="897.79" cy="729.38" r="5.98"/>
<circle cx="899.02" cy="730.48" r="5.98"/>
<circle cx="1014.23" cy="727.19" r="5.98"/>
<circle cx="908.94" cy="743.84" r="5.98"/>
<circle cx="916.12" cy="745.55" r="5.98"/>
<circle cx="890.8" cy="759.11" r="5.98"/>
<circle cx="892.39" cy="759.71" r="5.98"/>
<circle cx="964.95" cy="772.14" r="5.98"/>
<circle cx="1149.8" cy="766.1" r="5.98"/>
</g>
<polyline points="870.67,721.61 870.68,721.61 870.68,721.6 870.68,721.6 871.03,721.51 871.07,721.5 871.19,721.47 871.19,721.47 871.25,721.46 871.25,721.46 871.29,721.45 871.29,721.45 871.31,721.44 871.57,721.37 872.88,721.04 873.47,720.88 873.47,720.88 873.5,720.87 873.5,720.87 873.85,720.78 873.94,720.76 874.03,720.74 874.03,720.74 874.03,720.74 874.03,720.74 877.18,720.13 877.2,720.13 877.31,720.11 877.81,720.01 877.98,719.98 877.98,719.98 877.98,719.98 877.98,719.98 877.98,719.98 877.98,719.98 878.01,719.98 880.09,719.67 882.38,719.41 882.38,719.41 883.33,719.3 883.33,719.3 883.33,719.3 883.33,719.3 889.03,719.17 889.17,719.22 890.36,719.63 890.36,719.63 890.8,719.79 892.21,720.28 892.39,720.34 895.6,722.1 897.41,723.49 897.41,723.49 897.41,723.49 897.59,723.62 897.79,723.78 899.02,724.71 899.02,724.71 905.24,727.84 907.08,728.19 907.18,728.21 907.48,728.26 908.94,728.54 909.25,728.54 909.25,728.54 911.72,728.51 916.12,727.57 916.41,727.57 918.8,727.51 920.24,727.37 926.07,726.69 934.17,725.13 945.98,722.93 945.98,722.93 945.98,722.93 945.98,722.93 948.51,722.26 962.17,719.09 962.17,719.09 962.17,719.09 962.17,719.09 964.95,718.61 964.95,718.61 968.2,718.19 972.17,717.83 979.75,717.25 979.75,717.25 982.62,717.02 998.51,715.49 1001.98,715.09 1014.23,713.94 1041.12,715.91 1041.12,715.91 1045.14,716.33 1094.41,717.19 1121.47,712.21 1144.99,708.02 1149.8,707.25 1258.95,692.71" fill="none" stroke="#FF0000" stroke-width="2" stroke-linecap="round" stroke-linejoin="round"/>
<polyline points="802.68,718.75 1277.07,718.75" fill="none" stroke="#BEBEBE" stroke-width="2" stroke-linecap="round" stroke-linejoin="round" stroke-dasharray="2 6"/>
<polyline points="820.25,797.45 820.25,610.68" fill="none" stroke="#BEBEBE" stroke-width="2" stroke-linecap="round" stroke-linejoin="round" stroke-dasharray="2 6"/>
<polyline points="1194.61,608.13 1195.86,608.32 1197.11,608.52 1198.36,608.72 1199.6,608.92 1200.85,609.11 1202.1,609.3 1203.35,609.5 1204.6,609.69 1205.84,609.88 1207.09,610.07 1208.34,610.26 1209.59,610.45 1210.83,610.64 1212.08,610.82 1213.33,611.01 1214.58,611.2 1215.83,611.38 1217.07,611.56 1218.32,611.75 1219.57,611.93 1220.82,612.11 1222.07,612.29 1223.31,612.47 1224.56,612.65 1225.81,612.83 1227.06,613 1228.31,613.18 1229.55,613.35 1230.8,613.53 1232.05,613.7 1233.3,613.88 1234.54,614.05 1235.79,614.22 1237.04,614.39 1238.29,614.56 1239.54,614.73 1240.78,614.9 1242.03,615.07 1243.28,615.23 1244.53,615.4 1245.78,615.57 1247.02,615.73 1248.27,615.89 1249.52,616.06 1250.77,616.22 1252.01,616.38 1253.26,616.55 1254.51,616.71 1255.76,616.87 1257.01,617.03 1258.25,617.19 1259.5,617.34 1260.75,617.5 1262,617.66 1263.25,617.81 1264.49,617.97 1265.74,618.12 1266.99,618.28 1268.24,618.43 1269.49,618.59 1270.73,618.74 1271.98,618.89 1273.23,619.04 1274.48,619.19 1275.72,619.34 1276.97,619.49 1278.22,619.64 1279.47,619.79 1280.72,619.94" fill="none" stroke="#FF0000" stroke-width="2" stroke-linecap="round" stroke-dasharray="8 8" stroke-dashoffset="15.46" clip-path="url(#c4)"/>
<g transform="translate(1284.8,626.95)" fill="#FF0000"><text x="0 11 17" y="0" font-family="Liberation Sans, sans-serif" font-size="19.92">0.5</text></g>
<polyline points="826.6,765.6 874.4,765.6" fill="none" stroke="#FF0000" stroke-width="2" stroke-linecap="round" stroke-linejoin="round" stroke-dasharray="8 8"/>
<g transform="translate(898.3,774.6)" fill="#000"><text x="19 34 49 62 67 87 102 108 121 128 143 158 171" y="0" font-family="Liberation Sans, sans-serif" font-size="26.56">ook&#39;sdistance</text><text transform="translate(0,0) scale(1,1.04)" x="0" y="0" font-family="Liberation Sans, sans-serif" font-size="26.56">C</text></g>
<g transform="translate(1250.95,634.4)" fill="#000"><text x="-22 -11" y="0" font-family="Liberation Sans, sans-serif" font-size="19.92">23</text></g>
<g transform="translate(1157.8,776.5)" fill="#000"><text x="0 11" y="0" font-family="Liberation Sans, sans-serif" font-size="19.92">37</text></g>
<g transform="translate(1049.12,783.2)" fill="#000"><path d="M0.295 0L0.385 0L0.385 0.709L0.318 0.709C0.292 0.628 0.218 0.553 0.112 0.538L0.112 0.458C0.185 0.466 0.248 0.495 0.295 0.53Z" transform="translate(0,0) scale(19.92,-19.92)"/><path d="M0.295 0L0.385 0L0.385 0.709L0.318 0.709C0.292 0.628 0.218 0.553 0.112 0.538L0.112 0.458C0.185 0.466 0.248 0.495 0.295 0.53Z" transform="translate(11,0) scale(19.92,-19.92)"/></g>
<g transform="translate(28.7,833.7) rotate(-90)" fill="#000"><text x="18 25 40 55 70 85 94 109 115 128 143 165 174 189 202 208 223 238 253 259" y="0" font-family="Liberation Sans, sans-serif" font-size="26.56">tandardizedresiduals</text><text transform="translate(0,0) scale(1,1.04)" x="0" y="0" font-family="Liberation Sans, sans-serif" font-size="26.56">S</text></g>
<g fill="none" stroke="#000" stroke-width="1.9" stroke-linecap="butt">
<line x1="9.2" y1="835.0" x2="29.2" y2="835.0"/>
<line x1="9.2" y1="560.4" x2="29.2" y2="560.4"/>
<polyline points="21.5,850.8 19.0,847.7 29.2,844.2 3.75,839.2 3.75,557.9" stroke-linejoin="round"/>
</g></svg>
</body></html>
